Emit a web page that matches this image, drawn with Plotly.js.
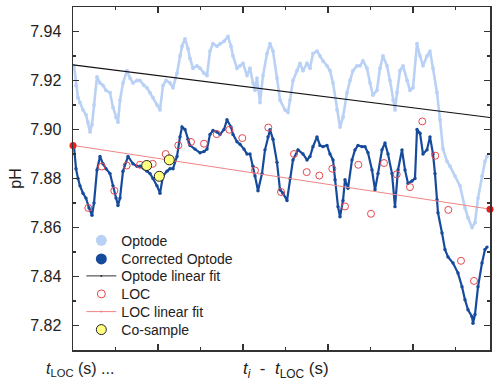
<!DOCTYPE html>
<html>
<head>
<meta charset="utf-8">
<script src="https://cdn.plot.ly/plotly-3.0.1.min.js"></script>
<style>
html,body{margin:0;padding:0;background:#fff;}
#chart{width:500px;height:386px;}
</style>
</head>
<body>
<div id="chart"></div>
<script>
// time offset (arbitrary units) and pH values
var optodeT = [1,3,5,7,10,13,15,17,19,21,24,27,30,33,37,40,43,45,47,50,54,57,60,64,67,71,74,77,80,84,87,90,93,97,100,104,107,109,112,115,117,120,124,127,131,134,137,140,144,147,151,155,158,160,164,167,170,174,177,180,182,184,187,190,194,197,200,204,207,212,215,217,220,224,227,230,234,237,240,244,247,250,254,257,260,264,267,270,274,277,280,284,287,290,294,297,300,304,307,310,314,317,320,322,324,327,330,334,337,340,344,347,350,354,357,360,364,367,370,374,377,382,387,392,395,399,402,405,409,412,414];
var optodePH = [7.926,7.918,7.913,7.911,7.908,7.906,7.903,7.899,7.902,7.910,7.9215,7.919,7.918,7.916,7.915,7.909,7.905,7.903,7.912,7.919,7.924,7.921,7.919,7.920,7.920,7.918,7.917,7.915,7.913,7.910,7.908,7.918,7.920,7.919,7.917,7.923,7.930,7.934,7.937,7.933,7.929,7.925,7.926,7.925,7.923,7.922,7.932,7.935,7.934,7.935,7.936,7.938,7.934,7.930,7.925,7.926,7.927,7.922,7.925,7.919,7.916,7.921,7.911,7.922,7.931,7.935,7.932,7.921,7.912,7.908,7.907,7.912,7.920,7.924,7.927,7.924,7.927,7.925,7.931,7.932,7.930,7.928,7.926,7.924,7.919,7.908,7.901,7.905,7.915,7.920,7.924,7.926,7.926,7.928,7.925,7.919,7.914,7.916,7.925,7.930,7.926,7.920,7.912,7.908,7.915,7.924,7.926,7.920,7.916,7.917,7.935,7.930,7.926,7.930,7.932,7.925,7.915,7.904,7.892,7.887,7.885,7.881,7.877,7.868,7.864,7.860,7.862,7.872,7.881,7.887,7.889];

var correctedT = [1,3,5,7,10,13,16,19,21,24,27,30,33,37,40,43,45,47,50,55,60,64,67,71,74,77,80,84,87,90,94,97,100,104,107,109,112,115,117,122,127,131,134,137,140,144,147,151,154,158,160,164,167,171,174,177,180,182,185,189,192,195,197,200,204,207,210,214,217,220,225,230,234,237,240,244,247,250,254,257,260,262,265,267,270,272,275,279,282,285,289,292,295,299,302,305,309,312,315,319,322,325,329,332,335,339,342,344,347,350,354,357,360,362,364,365,369,372,375,380,385,389,392,395,399,400,402,405,409,412,414];
var correctedPH = [7.893,7.884,7.880,7.877,7.874,7.872,7.868,7.865,7.870,7.8835,7.889,7.886,7.884,7.882,7.877,7.872,7.869,7.872,7.883,7.889,7.886,7.885,7.885,7.884,7.883,7.882,7.880,7.877,7.874,7.881,7.883,7.884,7.884,7.889,7.897,7.901,7.900,7.896,7.8935,7.892,7.8905,7.891,7.892,7.898,7.8996,7.899,7.898,7.900,7.904,7.901,7.898,7.895,7.894,7.892,7.890,7.890,7.885,7.881,7.875,7.882,7.8917,7.897,7.8999,7.896,7.8866,7.8754,7.874,7.871,7.880,7.8876,7.8917,7.890,7.8876,7.889,7.893,7.897,7.8935,7.893,7.8935,7.890,7.8876,7.8795,7.8685,7.8644,7.871,7.8795,7.876,7.8876,7.8917,7.8935,7.893,7.893,7.8905,7.8835,7.8754,7.882,7.8917,7.8945,7.890,7.882,7.8685,7.8835,7.8917,7.8835,7.878,7.879,7.880,7.900,7.8985,7.890,7.8917,7.897,7.890,7.882,7.8713,7.866,7.8578,7.851,7.848,7.8455,7.8414,7.8358,7.8305,7.8264,7.8236,7.8209,7.8245,7.8358,7.8455,7.851,7.852];

var locT = [15.3,28.7,41.3,53.7,67,79.7,92.7,105.3,118,131,143.7,156.3,169.3,182,195.3,208,221,233.7,246.3,259.3,272,285.3,298,311,323.7,337,349.3,362.3,375.3,388,401];
var locPH = [7.868,7.8849,7.875,7.8853,7.8856,7.886,7.890,7.8935,7.8949,7.8942,7.8981,7.8999,7.8965,7.8833,7.9008,7.8745,7.890,7.8826,7.8812,7.884,7.8686,7.8856,7.8656,7.8863,7.8817,7.8765,7.9033,7.8893,7.8672,7.8464,7.8382];

var coT = [73.7,86.3,96.3];
var coPH = [7.8853,7.8809,7.8876];

var fitT = [0,417];
var optodeFitPH = [7.9264,7.9049];
var locFitPH = [7.8935,7.8675];

var legendNames = ['Optode','Corrected Optode','Optode linear fit','LOC','LOC linear fit','Co-sample'];

var cLight = '#bad1f6', cDark = '#164a9c', cRed = '#e8474d', cRedLine = '#f08585';
var FONT = 'Liberation Sans, Arial, sans-serif';

var traces = [
  {x: optodeT, y: optodePH, mode: 'lines+markers', line: {color: cLight, width: 2.6}, marker: {color: cLight, size: 3.8}, showlegend: false, hoverinfo: 'skip'},
  {x: correctedT, y: correctedPH, mode: 'lines+markers', line: {color: cDark, width: 2.2}, marker: {color: cDark, size: 3.4}, showlegend: false, hoverinfo: 'skip'},
  {x: fitT, y: optodeFitPH, mode: 'lines', line: {color: '#111', width: 1.2}, showlegend: false},
  {x: locT, y: locPH, mode: 'markers', marker: {symbol: 'circle-open', color: cRed, size: 7, line: {width: 1}}, showlegend: false},
  {x: fitT, y: locFitPH, mode: 'lines+markers', line: {color: cRedLine, width: 1}, marker: {color: '#ee1c1c', size: 7}, cliponaxis: false, showlegend: false},
  {x: coT, y: coPH, mode: 'markers', marker: {color: '#ffff80', size: 10, line: {color: '#222', width: 1}}, showlegend: false},
  // legend entries (one small legend each, for the reference's tight row spacing)
  {x: [null], y: [null], name: legendNames[0], legend: 'legend', mode: 'markers', marker: {color: cLight, size: 11}},
  {x: [null], y: [null], name: legendNames[1], legend: 'legend2', mode: 'markers', marker: {color: cDark, size: 11}},
  {x: [null], y: [null], name: legendNames[2], legend: 'legend3', mode: 'lines+markers', line: {color: '#333', width: 1}, marker: {color: '#333', size: 2}},
  {x: [null], y: [null], name: legendNames[3], legend: 'legend4', mode: 'markers', marker: {symbol: 'circle-open', color: cRed, size: 8, line: {width: 1}}},
  {x: [null], y: [null], name: legendNames[4], legend: 'legend5', mode: 'lines+markers', line: {color: cRedLine, width: 1}, marker: {color: cRedLine, size: 2}},
  {x: [null], y: [null], name: legendNames[5], legend: 'legend6', mode: 'markers', marker: {color: '#ffff80', size: 10, line: {color: '#222', width: 1}}}
];

var axisCommon = {
  showline: true, linecolor: '#333', linewidth: 1.5, mirror: 'ticks',
  ticks: 'inside', ticklen: 6, tickwidth: 1.3, tickcolor: '#333',
  showgrid: false, zeroline: false
};

function legendAt(yPaper) {
  return {
    x: 0.02, y: yPaper, xanchor: 'left', yanchor: 'middle',
    bgcolor: 'rgba(0,0,0,0)', borderwidth: 0,
    font: {size: 14, family: FONT, color: '#222'}
  };
}

var layout = {
  width: 500, height: 386,
  margin: {l: 73, r: 10, t: 7, b: 36, pad: 0},
  paper_bgcolor: '#fff', plot_bgcolor: '#fff',
  font: {family: FONT, color: '#222'},
  xaxis: Object.assign({}, axisCommon, {
    range: [0, 417], tick0: 0, dtick: 85, showticklabels: false,
    minor: {dtick: 42.5, tick0: 0, ticklen: 3, tickwidth: 1.2, tickcolor: '#333', ticks: 'inside', showgrid: false}
  }),
  yaxis: Object.assign({}, axisCommon, {
    range: [7.81, 7.95], tick0: 7.8, dtick: 0.02, tickformat: '.2f',
    tickfont: {size: 16, family: FONT, color: '#222'}, ticklabelstandoff: 7,
    minor: {dtick: 0.01, tick0: 7.8, ticklen: 3, tickwidth: 1.2, tickcolor: '#333', ticks: 'inside', showgrid: false},
    title: {text: 'pH', font: {size: 16, family: FONT, color: '#222'}, standoff: 4}
  }),
  legend: legendAt(0.3187),
  legend2: legendAt(0.2644),
  legend3: legendAt(0.2149),
  legend4: legendAt(0.1624),
  legend5: legendAt(0.1108),
  legend6: legendAt(0.0583),
  annotations: [
    {xref: 'paper', yref: 'paper', x: -0.07, y: -0.058, xanchor: 'left', yanchor: 'middle', showarrow: false,
     text: '<i>t</i><sub>LOC</sub> (s) ...', font: {size: 16, family: FONT, color: '#222'}},
    {xref: 'paper', yref: 'paper', x: 0.511, y: -0.058, xanchor: 'center', yanchor: 'middle', showarrow: false,
     text: '<i>t</i><sub><i>i</i></sub>&nbsp;&nbsp;-&nbsp;&nbsp;<i>t</i><sub>LOC</sub> (s)', font: {size: 17, family: FONT, color: '#222'}}
  ]
};

Plotly.newPlot('chart', traces, layout, {staticPlot: true, displayModeBar: false});
</script>
</body>
</html>
